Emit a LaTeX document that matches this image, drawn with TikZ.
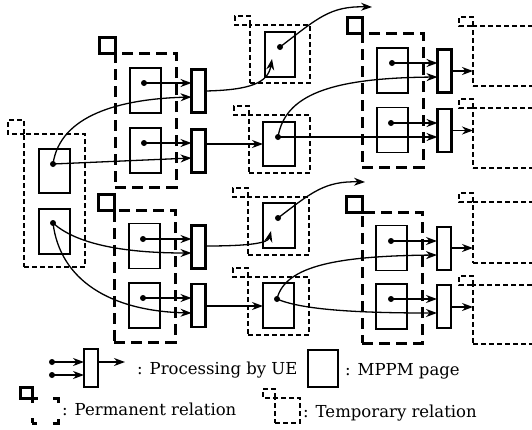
\documentclass[tikz,border=0pt]{standalone}
\usepackage{fontspec}
\setmainfont{DejaVu Serif}
\usetikzlibrary{arrows.meta,calc}
\begin{document}
\begin{tikzpicture}[x=1pt,y=-1pt,
  >={Stealth[length=11pt,width=8pt,inset=3.5pt]},
  page/.style={draw,line width=1.3pt,minimum width=31pt,minimum height=45pt,inner sep=0pt,outer sep=0pt},
  uebar/.style={draw,line width=2.8pt,minimum width=14pt,minimum height=43pt,inner sep=0pt,outer sep=0pt},
  permbox/.style={draw,line width=3pt,dash pattern=on 11pt off 6pt,inner sep=0pt,outer sep=0pt},
  tempbox/.style={draw,line width=1.4pt,dash pattern=on 5pt off 3pt,inner sep=0pt,outer sep=0pt},
  permflag/.style={draw,line width=3pt},
  tempflag/.style={draw,line width=1.4pt,dash pattern=on 5pt off 3pt},
  dot/.style={circle,fill=black,inner sep=0pt,minimum size=6pt},
  conn/.style={line width=1.3pt},
  lab/.style={anchor=base west,inner sep=0pt,font=\fontsize{16.5}{19}\selectfont}
]
\clip (0,0) rectangle (532,429);

% ---------- left temporary group ----------
\node[tempbox,minimum width=61pt,minimum height=133pt] (T0) at (54.5,200.5) {};
\draw[tempflag] (T0.north west) rectangle ++(-16,-14);
\node[page,minimum height=44pt] (L1) at (54.5,171) {};
\node[page] (L2) at (54.5,231.5) {};
\node[dot] (l1) at (53,164) {};
\node[dot] (l2) at (53,223) {};

% ---------- permanent group 1 ----------
\node[permbox,minimum width=61pt,minimum height=134pt] (G1) at (145.5,120) {};
\draw[permflag] (G1.north west) rectangle ++(-16,-16);
\node[page] (A) at (145.5,90.5) {};
\node[page] (B) at (145.5,150.5) {};
\node[dot] (a) at (144,83) {};
\node[dot] (b) at (144,143) {};
\node[uebar] (b1) at (198.5,91) {};
\node[uebar] (b2) at (198.5,151) {};

% ---------- permanent group 2 ----------
\node[permbox,minimum width=61pt,minimum height=132pt] (G2) at (144.5,276) {};
\draw[permflag] (G2.north west) rectangle ++(-16,-16);
\node[page] (C) at (144.5,246) {};
\node[page] (D) at (144.5,305.5) {};
\node[dot] (c) at (143,239) {};
\node[dot] (d) at (143,298) {};
\node[uebar] (b3) at (198.5,247) {};
\node[uebar] (b4) at (198.5,305.5) {};

% ---------- middle temporary groups ----------
\node[tempbox,minimum width=60pt,minimum height=58pt] (TA) at (280,54) {};
\draw[tempflag] (TA.north west) rectangle ++(-15,-9);
\node[page,minimum width=30pt] (PA) at (280,54.5) {};
\node[dot] (pa) at (280,47) {};

\node[tempbox,minimum width=61pt,minimum height=58pt] (TB) at (279.5,144) {};
\draw[tempflag] (TB.north west) rectangle ++(-15,-9);
\node[page,minimum width=32pt,minimum height=44pt] (PB) at (279,144) {};
\node[dot] (pb) at (278,137) {};

\node[tempbox,minimum width=61pt,minimum height=58pt] (TC) at (278.5,226) {};
\draw[tempflag] (TC.north west) rectangle ++(-15,-9);
\node[page,minimum width=32pt] (PC) at (279,225.5) {};
\node[dot] (pc) at (278,218) {};

\node[tempbox,minimum width=61pt,minimum height=58pt] (TD) at (278.5,306) {};
\draw[tempflag] (TD.north west) rectangle ++(-15,-9);
\node[page] (PD) at (278.5,305.5) {};
\node[dot] (pd) at (277,299) {};

% ---------- permanent group 3 ----------
\node[permbox,minimum width=61pt,minimum height=134pt] (G3) at (392.5,100) {};
\draw[permflag] (G3.north west) rectangle ++(-15,-16);
\node[page] (E1) at (392.5,70.5) {};
\node[page] (E2) at (392.5,130) {};
\node[dot] (e1) at (392,63) {};
\node[dot] (e2) at (391,123) {};
\node[uebar] (b5) at (444.5,71) {};
\node[uebar] (b6) at (444.5,130.5) {};

% ---------- permanent group 4 ----------
\node[permbox,minimum width=60pt,minimum height=131pt] (G4) at (392,277.5) {};
\draw[permflag] (G4.north west) rectangle ++(-16,-16);
\node[page] (F1) at (391.5,248) {};
\node[page] (F2) at (391.5,306.5) {};
\node[dot] (f1) at (391,241) {};
\node[dot] (f2) at (391,299) {};
\node[uebar] (b7) at (444,248.5) {};
\node[uebar] (b8) at (444,306.5) {};

% ---------- right temporary groups ----------
\node[tempbox,minimum width=72pt,minimum height=60pt] (R1) at (509,56) {};
\draw[tempflag] (R1.north west) rectangle ++(-14,-9);
\node[tempbox,minimum width=72pt,minimum height=60pt] (R2) at (509,138) {};
\draw[tempflag] (R2.north west) rectangle ++(-14,-9);
\node[tempbox,minimum width=72pt,minimum height=61pt] (R3) at (509,232.5) {};
\draw[tempflag] (R3.north west) rectangle ++(-14,-9);
\node[tempbox,minimum width=72pt,minimum height=59pt] (R4) at (509,314.5) {};
\draw[tempflag] (R4.north west) rectangle ++(-14,-9);

% ---------- free ends ----------
\coordinate (ina) at (272,59);
\coordinate (inc) at (271,231);
\coordinate (outa) at (372,7);
\coordinate (outc) at (365,182);

% ---------- connectors ----------
\begin{scope}[conn]
% left group
\draw[->] (l1.center) .. controls (60,115) and (120,99) .. (b1.west |- 0,97);
\draw[->] (l1.center) -- (b2.west |- 0,158);
\draw[->] (l2.center) .. controls (75,243) and (120,253) .. (b3.west |- 0,253);
\draw[->] (l2.center) .. controls (60,280) and (110,311) .. (b4.west |- 0,313);
% group 1 / 2
\draw[->] (a.center) -- (a.center -| b1.west);
\draw[->] (b.center) -- (b.center -| b2.west);
\draw[->] (c.center) -- (c.center -| b3.west);
\draw[->] (d.center) -- (d.center -| b4.west);
% bar outputs to middle column
\draw[->] (b1.east) .. controls (250,90) and (268,83) .. (ina);
\draw[->] (b2.east |- 0,144) -- (PB.west |- 0,144);
\draw[->] (b3.east |- 0,246) .. controls (250,246) and (268,243) .. (inc);
\draw[->] (b4.east |- 0,306) -- (PD.west |- 0,306);
% middle column outputs
\draw[->] (pa.center) .. controls (318,18) and (330,6) .. (outa);
\draw[->] (pb.center) .. controls (285,95) and (330,78) .. (b5.west |- 0,77);
\draw[->] (pb.center) -- (b6.west |- 0,137);
\draw[->] (pc.center) .. controls (312,192) and (325,181) .. (outc);
\draw[->] (pd.center) .. controls (285,265) and (340,256) .. (b7.west |- 0,255);
\draw[->] (pd.center) .. controls (300,309) and (350,313) .. (b8.west |- 0,313);
% group 3 / 4
\draw[->] (e1.center) -- (e1.center -| b5.west);
\draw[->] (e2.center) -- (e2.center -| b6.west);
\draw[->] (f1.center) -- (f1.center -| b7.west);
\draw[->] (f2.center) -- (f2.center -| b8.west);
% to right column
\draw[->] (b5.east) -- (R1.west |- b5.east);
\draw[->] (b6.east) -- (R2.west |- b6.east);
\draw[->] (b7.east |- 0,248) -- (R3.west |- 0,248);
\draw[->] (b8.east |- 0,307) -- (R4.west |- 0,307);
\end{scope}

% ---------- legend ----------
\node[dot] (ld1) at (52,362) {};
\node[dot] (ld2) at (52,375) {};
\node[uebar,minimum width=14pt,minimum height=38pt] (lb) at (91,368) {};
\coordinate (lout) at (125,362);
\begin{scope}[conn]
\draw[->] (ld1.center) -- (ld1.center -| lb.west);
\draw[->] (ld2.center) -- (ld2.center -| lb.west);
\draw[->] (lb.east |- 0,362) -- (lout);
\end{scope}
\node[lab] (t1) at (137,374) {: Processing by UE};
\node[page,minimum width=30pt,minimum height=37pt] (lp) at (323,368.5) {};
\node[lab] (t2) at (345,375) {: MPPM page};

\node[permbox,dash pattern=on 10pt off 15.5pt,dash phase=5pt,minimum width=26pt,minimum height=25pt] (lg) at (45,410.5) {};
\draw[permflag] (lg.north west) rectangle ++(-12,-11);
\node[lab] (t3) at (62,415) {: Permanent relation};

\node[tempbox,minimum width=25pt,minimum height=25pt] (lt) at (287.5,410.5) {};
\draw[tempflag] (lt.north west) rectangle ++(-12,-9);
\node[lab] (t4) at (303,417) {: Temporary relation};
\end{tikzpicture}
\end{document}
